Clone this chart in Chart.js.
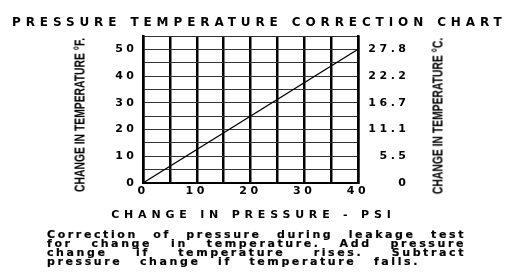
<!DOCTYPE html>
<html>
<head>
<meta charset="utf-8">
<script src="https://cdn.jsdelivr.net/npm/chart.js@4.4.0/dist/chart.umd.min.js"></script>
<style>
  html, body { margin: 0; padding: 0; background: #fff; }
  #wrap { position: relative; width: 532px; height: 276px; overflow: hidden; background: #fff; }
  #c { position: absolute; left: 0; top: 0; }
  .t { position: absolute; color: #000; font-family: "DejaVu Sans", sans-serif; font-weight: bold; white-space: nowrap; }
  #title { left: 12px; top: 16px; font-size: 12px; line-height: 12px; letter-spacing: 4.9px; }
  #xtitle { left: 251px; top: 209px; font-size: 11px; line-height: 11px; letter-spacing: 4.8px; transform: translateX(-50%); padding-left: 4.8px; }
  .vt { position: absolute; font-family: "Liberation Sans", Arial, sans-serif; font-weight: bold; font-size: 15px; line-height: 15px; white-space: nowrap; color: #000;
        transform: translate(-50%, -50%) rotate(-90deg) scaleX(0.69); transform-origin: 50% 50%; }
  #ltitle { left: 79px; top: 115px; }
  #rtitle { left: 437px; top: 116px; }
  #caption { position: absolute; left: 47px; top: 230px; font-family: "DejaVu Sans", sans-serif; font-weight: bold; font-size: 11px; line-height: 9px; letter-spacing: 2.6px; color: #000; -webkit-text-stroke: 0.2px #000; }
  #caption div { text-align: justify; text-align-last: justify; }
</style>
</head>
<body>
<div id="wrap">
  <canvas id="c" width="532" height="276"></canvas>
  <div class="t" id="title">PRESSURE TEMPERATURE CORRECTION CHART</div>
  <div class="t" id="xtitle">CHANGE IN PRESSURE - PSI</div>
  <div class="vt" id="ltitle">CHANGE IN TEMPERATURE °F.</div>
  <div class="vt" id="rtitle">CHANGE IN TEMPERATURE °C.</div>
  <div id="caption">
    <div style="width:419px">Correction of pressure during leakage test</div>
    <div style="width:419px">for change in temperature. Add pressure</div>
    <div style="width:419px">change if temperature rises. Subtract</div>
    <div style="width:373px">pressure change if temperature falls.</div>
  </div>
</div>
<script>
// ---- data ----
const pressurePsi = [0, 40];
const tempChangeF = [0, 50];
const pressureTicks = [0, 10, 20, 30, 40];
const fahrenheitTicks = [0, 10, 20, 30, 40, 50];
const celsiusTickLabels = ['0', '5.5', '11.1', '16.7', '22.2', '27.8'];

const points = pressurePsi.map((p, i) => ({ x: p, y: tempChangeF[i] }));

const tickFont = { family: 'DejaVu Sans', weight: 'bold', size: 11 };
const LS = 3.5;

const letterSpacingPlugin = {
  id: 'ls',
  beforeDraw(chart) { chart.ctx.letterSpacing = LS + 'px'; }
};

new Chart(document.getElementById('c'), {
  type: 'line',
  data: {
    datasets: [{
      data: points,
      borderColor: '#000',
      borderWidth: 1.2,
      pointRadius: 0,
      tension: 0,
      fill: false
    }]
  },
  options: {
    responsive: false,
    animation: false,
    devicePixelRatio: 1,
    layout: { padding: { top: 36, right: 126 - LS, left: 0, bottom: 0 } },
    plugins: { legend: { display: false }, tooltip: { enabled: false }, title: { display: false } },
    scales: {
      x: {
        type: 'linear', position: 'bottom', min: 0, max: 40,
        ticks: {
          stepSize: 5, autoSkip: false, maxRotation: 0, padding: 2,
          color: '#000', font: tickFont,
          callback: v => pressureTicks.includes(v) ? String(v) : ''
        },
        grid: { color: '#000', lineWidth: 2.5, drawTicks: false },
        border: { color: '#000', width: 2 },
        afterFit: s => { s.height = 276 - 183; }
      },
      y: {
        type: 'linear', position: 'left', min: 0, max: 55,
        ticks: {
          stepSize: 5, autoSkip: false, padding: 9 - LS,
          color: '#000', font: tickFont,
          callback: v => fahrenheitTicks.includes(v) ? String(v) : ''
        },
        grid: { color: '#333', lineWidth: 1, drawTicks: false },
        border: { color: '#000', width: 2.5 },
        afterFit: s => { s.width = 143; }
      },
      y2: {
        type: 'linear', position: 'right', min: 0, max: 55,
        ticks: {
          stepSize: 5, autoSkip: false, crossAlign: 'far',
          color: '#000', font: tickFont,
          callback: v => { const i = fahrenheitTicks.indexOf(v); return i >= 0 ? celsiusTickLabels[i] : ''; }
        },
        grid: { drawOnChartArea: false, drawTicks: false },
        border: { color: '#000', width: 2.5 },
        afterFit: s => { s.width = 48 + LS; }
      }
    }
  },
  plugins: [letterSpacingPlugin]
});
</script>
</body>
</html>
